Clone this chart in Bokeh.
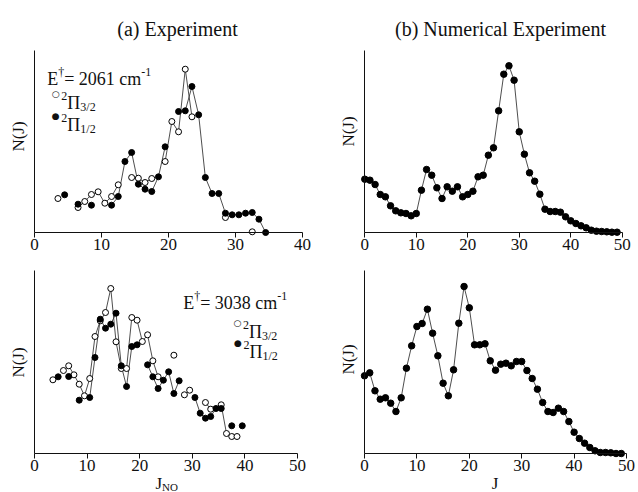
import math

from bokeh.plotting import figure
from bokeh.models import Range1d, FixedTicker, Label
from bokeh.layouts import column, row
from bokeh.embed import file_html
from bokeh.resources import INLINE

SERIF = "Liberation Serif"
INK = "#111111"
LINE = "#3a3a3a"

# ---------------- (a) Experiment, E = 2061 cm-1 ----------------
a_hi_j = [3.5, 6.5, 7.5, 8.5, 9.5, 10.5, 11.5, 12.5, 14.5, 15.5, 16.5, 17.5,
          19.5, 20.5, 21.5, 22.5, 23.5, 28.5, 32.5]
a_hi_n = [34, 25, 31, 38, 40.7, 29.3, 36, 47.7, 55, 54.3, 50, 54,
          71, 111, 100.7, 163.3, 115.7, 15, 0.7]
a_lo_j = [4.5, 6.5, 8.5, 11.5, 12.5, 13.5, 14.5, 15.5, 16.5, 17.5, 18.5, 19.5,
          21.5, 22.5, 23.5, 24.5, 25.5, 26.5, 27.5, 28.5, 29.5, 30.5, 31.5, 32.5,
          33.5, 34.5]
a_lo_n = [37.7, 28.3, 27.3, 27.3, 36, 71, 80, 48.3, 43.3, 41, 55.7, 85.7,
          121, 121.7, 146, 117.7, 55, 39, 39, 19.3, 17.7, 17.7, 19.3, 20,
          13.3, 0]

# ---------------- (a) Experiment, E = 3038 cm-1 ----------------
c_hi_j = [3.5, 5.5, 6.5, 7.5, 8.5, 9.5, 10.5, 11.5, 12.5, 13.5, 14.5, 15.5,
          16.5, 17.5, 18.5, 19.5, 20.5, 21.5, 22.5, 23.5, 26.5, 28.5, 29.5,
          32.5, 33.5, 35.5, 36.5, 37.5, 38.5]
c_hi_n = [73.7, 83, 87.7, 78.7, 69.3, 57.7, 75, 117, 132.7, 141, 165, 111.7,
          85, 85, 136, 133.3, 112, 118.7, 92.7, 76.7, 98.3, 58.7, 63.3,
          51, 44.3, 48.7, 20, 17, 17]
c_lo_j = [4.5, 6.5, 8.5, 10.5, 11.5, 12.5, 13.5, 14.5, 15.5, 16.5, 17.5, 18.5,
          19.5, 21.5, 22.5, 23.5, 24.5, 25.5, 26.5, 27.5, 30.5, 31.5, 32.5,
          33.5, 34.5, 35.5, 37.5, 39.5]
c_lo_n = [76.7, 77, 53.3, 56, 96, 134.3, 125.3, 129.3, 140.3, 87.7, 67, 107,
          108.7, 88.7, 76.7, 65, 73.3, 81.7, 60, 72.7, 56, 40.3, 35.3,
          37, 45, 45, 27.7, 27.7]

# ---------------- (b) Numerical Experiment ----------------
num_j = list(range(50))
b_n = [53.3, 52.3, 48, 38, 35.7, 26.7, 21.7, 19.7, 19, 16.7,
       19, 42.3, 63, 57.3, 44.7, 34, 45.7, 41.3, 45.7, 35.7,
       38, 41.3, 55.7, 57.3, 77.3, 84.7, 121.7, 158.3, 166.7, 152.3,
       100.7, 78.3, 59.7, 51.3, 38.3, 23.3, 21, 21, 20.3, 15.7,
       11.7, 9, 6.7, 4.7, 2.3, 1.3, 1, 0.7, 0.3, 0.3]
d_n = [77.7, 80.7, 62.7, 54.3, 55.7, 50.3, 42, 55.7, 85.3, 107.7,
       127, 130, 144.3, 120.3, 97.7, 70.3, 57.7, 83.7, 130.3, 167,
       145.7, 108.7, 108.7, 109.7, 92.7, 83.3, 89.3, 90.3, 87.7, 92,
       92, 83, 75, 64.3, 51, 42, 41, 45.3, 42, 32,
       21.3, 15, 10.3, 6, 2.7, 1, 1, 0.7, 0, 0]

ticks_40 = [0, 10, 20, 30, 40]
ticks_50 = [0, 10, 20, 30, 40, 50]

# Approximate advance widths (em) of Liberation Serif glyphs, used to
# set sub- and superscript pieces next to each other.
EM = {"E": .611, "\u2020": .5, "=": .564, " ": .25, "c": .444, "m": .778,
      "-": .333, "/": .278, "\u03a0": .722, "J": .389, "N": .722, "O": .722}


def text_width(s, size):
    return sum(EM.get(ch, .5) for ch in s) * size


def with_breaks(js, ns):
    """Connect only neighbouring rotational levels; gaps break the line."""
    xs, ys = [], []
    for i, (j, n) in enumerate(zip(js, ns)):
        if i and j - js[i - 1] > 1.01:
            xs.append(float("nan"))
            ys.append(float("nan"))
        xs.append(j)
        ys.append(n)
    return xs, ys


def panel(width, height, x0, px_per_j, axis_y, ytop, xmax, ticks):
    """A panel whose plotting area fills the whole canvas.

    x0 / axis_y: pixel position of the origin from the canvas' left / top edge.
    One unit of N(J) is one pixel, so ytop is the height of the vertical axis.
    """
    p = figure(width=width, height=height,
               x_range=Range1d(-x0 / px_per_j, (width - x0) / px_per_j),
               y_range=Range1d(-(height - axis_y), axis_y),
               min_border=0, min_border_left=0, min_border_right=0,
               min_border_top=0, min_border_bottom=0,
               toolbar_location=None, output_backend="svg",
               background_fill_color="white", border_fill_color="white")
    p.outline_line_color = None
    p.grid.visible = False

    xa = p.xaxis[0]
    xa.fixed_location = 0
    xa.bounds = (0, xmax)
    xa.ticker = FixedTicker(ticks=ticks)
    xa.axis_line_color = INK
    xa.major_tick_in = 0
    xa.major_tick_out = 5
    xa.major_tick_line_color = INK
    xa.minor_tick_in = 0
    xa.minor_tick_out = 0
    xa.major_label_text_font = SERIF
    xa.major_label_text_font_size = "17px"
    xa.major_label_text_color = INK
    xa.major_label_standoff = 1

    ya = p.yaxis[0]
    ya.fixed_location = 0
    ya.bounds = (0, ytop)
    ya.ticker = FixedTicker(ticks=[])
    ya.major_tick_out = 0
    ya.minor_tick_out = 0
    ya.axis_line_color = INK
    return p


def put(p, text, fx, fy, size, font=SERIF, align="left", baseline="alphabetic", angle=0.0):
    """Text at fx px from the canvas' left edge and fy px from its top edge."""
    p.add_layout(Label(x=p.x_range.start, y=p.y_range.end,
                       x_offset=fx, y_offset=-fy, text=text, angle=angle,
                       text_font=font, text_font_size=f"{size}px",
                       text_align=align, text_baseline=baseline,
                       text_color=INK))


def rich(p, fx, fy, pieces):
    x = fx
    for text, size, rise in pieces:
        put(p, text, x, fy - rise, size)
        x += text_width(text, size)


def energy_key(p, fx, fy, energy):
    rich(p, fx, fy, [("E", 18, 0), ("\u2020", 12, 7),
                     (f"= {energy} cm", 18, 0), ("-1", 12, 7)])


def state_key(p, fx, fy, symbol, omega):
    put(p, symbol, fx, fy, 9, font="DejaVu Sans", align="center", baseline="middle")
    rich(p, fx + 5.5, fy + 9, [("2", 12, 7), ("\u03a0", 18, 0), (omega, 12, -4)])


def y_title(p, fx, fy):
    put(p, "N(J)", fx, fy, 17, align="center", baseline="middle", angle=math.pi / 2)


def experiment(p, hi_j, hi_n, lo_j, lo_n):
    for js, ns in ((hi_j, hi_n), (lo_j, lo_n)):
        xs, ys = with_breaks(js, ns)
        p.line(xs, ys, line_color=LINE, line_width=0.9)
    p.scatter(hi_j, hi_n, size=6, marker="circle", fill_color="white",
              line_color="black", line_width=1)
    p.scatter(lo_j, lo_n, size=6, marker="circle", fill_color="black",
              line_color="black", line_width=1)


def simulation(p, js, ns):
    p.line(js, ns, line_color=LINE, line_width=0.9)
    p.scatter(js, ns, size=6.5, marker="circle", fill_color="black",
              line_color="black", line_width=1)


# top row (262 px tall, axis line 232 px from the top)
tl = panel(330, 262, 34, 6.7, 232, 182, 40, ticks_40)
tr = panel(308, 262, 34.3, 5.148, 232, 182, 50, ticks_50)
# bottom row (230 px tall, axis line 191 px from the top)
bl = panel(329, 230, 34, 5.26, 191, 183, 50, ticks_50)
br = panel(309, 230, 35, 5.24, 191, 183, 50, ticks_50)

experiment(tl, a_hi_j, a_hi_n, a_lo_j, a_lo_n)
experiment(bl, c_hi_j, c_hi_n, c_lo_j, c_lo_n)
simulation(tr, num_j, b_n)
simulation(br, num_j, d_n)

# column headings
put(tl, "(a) Experiment", 177, 28, 20, align="center")
put(tr, "(b) Numerical Experiment", 170, 28, 20, align="center")

# vertical axis titles
y_title(tl, 17.5, 136)
y_title(tr, 17.5, 131)
y_title(bl, 17.5, 100)
y_title(br, 18.5, 97)

# keys
energy_key(tl, 46.7, 78, 2061)
state_key(tl, 55.3, 93.3, "\u25cb", "3/2")
state_key(tl, 55.3, 115, "\u25cf", "1/2")

energy_key(bl, 182.7, 40, 3038)
state_key(bl, 237, 60.7, "\u25cb", "3/2")
state_key(bl, 237.5, 80.7, "\u25cf", "1/2")

# horizontal axis titles
rich(bl, 155, 221, [("J", 17, 0), ("NO", 11, -3)])
put(br, "J", 165.5, 221, 17, align="center")

page = column(row(tl, tr), row(bl, br))
open("out.html", "w").write(file_html(page, INLINE))
